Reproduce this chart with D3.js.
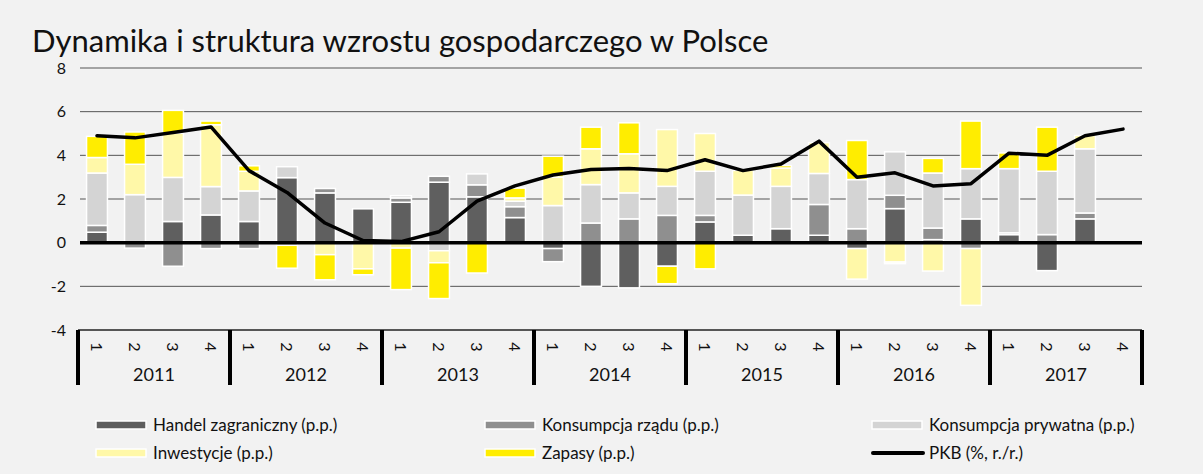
<!DOCTYPE html>
<html>
<head>
<meta charset="utf-8">
<script src="https://cdn.jsdelivr.net/npm/d3@7"></script>
<style>
  body { margin: 0; background: #f2f2f2; }
  svg { display: block; font-family: "Lato", "Liberation Sans", sans-serif; }
</style>
</head>
<body>
<svg width="1203" height="474"></svg>
<script>
// quarters 2011Q1 .. 2017Q4
var years = ["2011", "2012", "2013", "2014", "2015", "2016", "2017"];
var quarters = ["1", "2", "3", "4"];

// contributions, p.p.
var handel   = [0.48, 0.00, 0.97, 1.27, 0.97, 2.98, 2.28, 1.55, 1.85, 2.77, 2.10, 1.15, -0.27, -2.00, -2.07, -1.08, 0.95, 0.34, 0.64, 0.34, -0.27, 1.56, 0.14, 1.09, 0.37, -1.28, 1.09, 0];
var rzad     = [0.31, -0.25, -1.08, -0.27, -0.27, -0.12, 0.20, 0.00, 0.20, 0.27, 0.55, 0.50, -0.60, 0.90, 1.09, 1.25, 0.30, 0.00, 0.00, 1.41, 0.64, 0.61, 0.53, -0.27, 0.08, 0.37, 0.27, 0];
var prywatna = [2.40, 2.20, 2.02, 1.30, 1.40, 0.50, 0.00, 0.00, 0.10, -0.37, 0.50, 0.25, 1.70, 1.76, 1.19, 1.33, 2.02, 1.84, 1.94, 1.42, 2.25, 1.99, 2.52, 2.30, 2.94, 2.90, 2.94, 0];
var inwestycje = [0.71, 1.39, 2.03, 2.83, 0.90, 0.00, -0.55, -1.20, -0.25, -0.55, 0.00, 0.15, 1.31, 1.64, 1.79, 2.60, 1.73, 1.13, 0.84, 1.41, -1.40, -0.89, -1.30, -2.60, 0.00, 0.00, 0.61, 0];
var zapasy   = [0.97, 1.48, 1.04, 0.17, 0.25, -1.05, -1.15, -0.27, -1.90, -1.64, -1.39, 0.45, 0.95, 0.99, 1.42, -0.80, -1.20, 0.00, 0.11, 0.00, 1.79, -0.07, 0.67, 2.18, 0.72, 2.02, 0.00, 0];
// PKB, % r/r
var pkb = [4.9, 4.8, 5.05, 5.3, 3.3, 2.3, 0.9, 0.1, 0.05, 0.5, 1.9, 2.6, 3.1, 3.35, 3.4, 3.3, 3.8, 3.3, 3.6, 4.65, 3.0, 3.2, 2.6, 2.7, 4.1, 4.0, 4.9, 5.2];

var yTicks = [-4, -2, 0, 2, 4, 6, 8];

var series = [
    { key: "handel", name: "Handel zagraniczny (p.p.)", color: "#5f5f5f", values: handel },
    { key: "rzad", name: "Konsumpcja rządu (p.p.)", color: "#8f8f8f", values: rzad },
    { key: "prywatna", name: "Konsumpcja prywatna (p.p.)", color: "#d4d4d4", values: prywatna },
    { key: "inwestycje", name: "Inwestycje (p.p.)", color: "#fff8a8", values: inwestycje },
    { key: "zapasy", name: "Zapasy (p.p.)", color: "#ffed00", values: zapasy }
];

var svg = d3.select("svg"),
    width = +svg.attr("width"),
    height = +svg.attr("height");

svg.append("rect").attr("width", width).attr("height", height).attr("fill", "#f2f2f2");

svg.append("text")
    .attr("x", 32)
    .attr("y", 52)
    .attr("font-size", "31px")
    .attr("fill", "#111")
    .text("Dynamika i struktura wzrostu gospodarczego w Polsce");

var rows = pkb.map(function(d, i) {
    var r = { i: i };
    series.forEach(function(s) { r[s.key] = s.values[i]; });
    return r;
});

var x = d3.scaleBand()
    .domain(d3.range(pkb.length))
    .range([78, 1142])
    .paddingInner(0.45)
    .paddingOuter(0.225);

var y = d3.scaleLinear().domain([-4, 8]).range([330, 68]);

// grid
svg.append("g")
    .selectAll("line")
    .data(yTicks.filter(function(d) { return d != 0 && d != -4; }))
    .enter().append("line")
    .attr("x1", 80).attr("x2", 1142)
    .attr("y1", function(d) { return y(d); })
    .attr("y2", function(d) { return y(d); })
    .attr("stroke", "#555")
    .attr("stroke-width", 1);

svg.append("g")
    .selectAll("text")
    .data(yTicks)
    .enter().append("text")
    .attr("x", 66)
    .attr("y", function(d) { return y(d); })
    .attr("dy", "0.35em")
    .attr("text-anchor", "end")
    .attr("font-size", "16px")
    .attr("fill", "#111")
    .text(function(d) { return d; });

// bars
var stack = d3.stack()
    .keys(series.map(function(s) { return s.key; }))
    .offset(d3.stackOffsetDiverging);

var layers = stack(rows);

svg.append("g")
    .selectAll("g")
    .data(layers)
    .enter().append("g")
    .attr("fill", function(d, i) { return series[i].color; })
    .selectAll("rect")
    .data(function(d) { return d.filter(function(p) { return p[1] - p[0] != 0; }); })
    .enter().append("rect")
    .attr("x", function(d) { return x(d.data.i); })
    .attr("width", x.bandwidth())
    .attr("y", function(d) { return y(d[1]); })
    .attr("height", function(d) { return y(d[0]) - y(d[1]); })
    .attr("stroke", "#fff")
    .attr("stroke-width", 1.5);

// zero line
svg.append("line")
    .attr("x1", 80).attr("x2", 1142)
    .attr("y1", y(0)).attr("y2", y(0))
    .attr("stroke", "#000")
    .attr("stroke-width", 3.5);

// PKB
var line = d3.line()
    .x(function(d, i) { return x(i) + x.bandwidth() / 2; })
    .y(function(d) { return y(d); });

svg.append("path")
    .datum(pkb)
    .attr("d", line)
    .attr("fill", "none")
    .attr("stroke", "#000")
    .attr("stroke-width", 3.5)
    .attr("stroke-linejoin", "round")
    .attr("stroke-linecap", "round");

// category axis
svg.append("line")
    .attr("x1", 78).attr("x2", 1142)
    .attr("y1", y(-4)).attr("y2", y(-4))
    .attr("stroke", "#222")
    .attr("stroke-width", 1.5);

var yearW = (1142 - 78) / years.length;

svg.append("g")
    .selectAll("line")
    .data(d3.range(years.length + 1))
    .enter().append("line")
    .attr("x1", function(d) { return 78 + d * yearW; })
    .attr("x2", function(d) { return 78 + d * yearW; })
    .attr("y1", y(-4)).attr("y2", 385)
    .attr("stroke", "#000")
    .attr("stroke-width", 4);

svg.append("g")
    .selectAll("text")
    .data(pkb)
    .enter().append("text")
    .attr("transform", function(d, i) {
        return "translate(" + (x(i) + x.bandwidth() / 2) + ",347) rotate(90)";
    })
    .attr("text-anchor", "middle")
    .attr("dy", "0.35em")
    .attr("font-size", "16px")
    .attr("fill", "#111")
    .text(function(d, i) { return quarters[i % 4]; });

svg.append("g")
    .selectAll("text")
    .data(years)
    .enter().append("text")
    .attr("x", function(d, i) { return 78 + (i + 0.5) * yearW; })
    .attr("y", 375)
    .attr("dy", "0.35em")
    .attr("text-anchor", "middle")
    .attr("font-size", "18px")
    .attr("fill", "#111")
    .text(function(d) { return d; });

// legend
var legendItems = series.concat([{ key: "pkb", name: "PKB (%, r./r.)", color: "#000" }]);
var legendX = [96, 485, 872];
var legendY = [425, 453];

var legend = svg.append("g")
    .selectAll("g")
    .data(legendItems)
    .enter().append("g")
    .attr("transform", function(d, i) {
        return "translate(" + legendX[i % 3] + "," + legendY[Math.floor(i / 3)] + ")";
    });

legend.filter(function(d) { return d.key != "pkb"; })
    .append("rect")
    .attr("x", 0).attr("y", -4)
    .attr("width", 50).attr("height", 8)
    .attr("fill", function(d) { return d.color; })
    .attr("stroke", "#fff")
    .attr("stroke-width", 1.5);

legend.filter(function(d) { return d.key == "pkb"; })
    .append("line")
    .attr("x1", 1).attr("x2", 51)
    .attr("stroke", "#000")
    .attr("stroke-width", 4)
    .attr("stroke-linecap", "round");

legend.append("text")
    .attr("x", 57)
    .attr("dy", "0.35em")
    .attr("font-size", "17px")
    .attr("fill", "#111")
    .text(function(d) { return d.name; });
</script>
</body>
</html>
